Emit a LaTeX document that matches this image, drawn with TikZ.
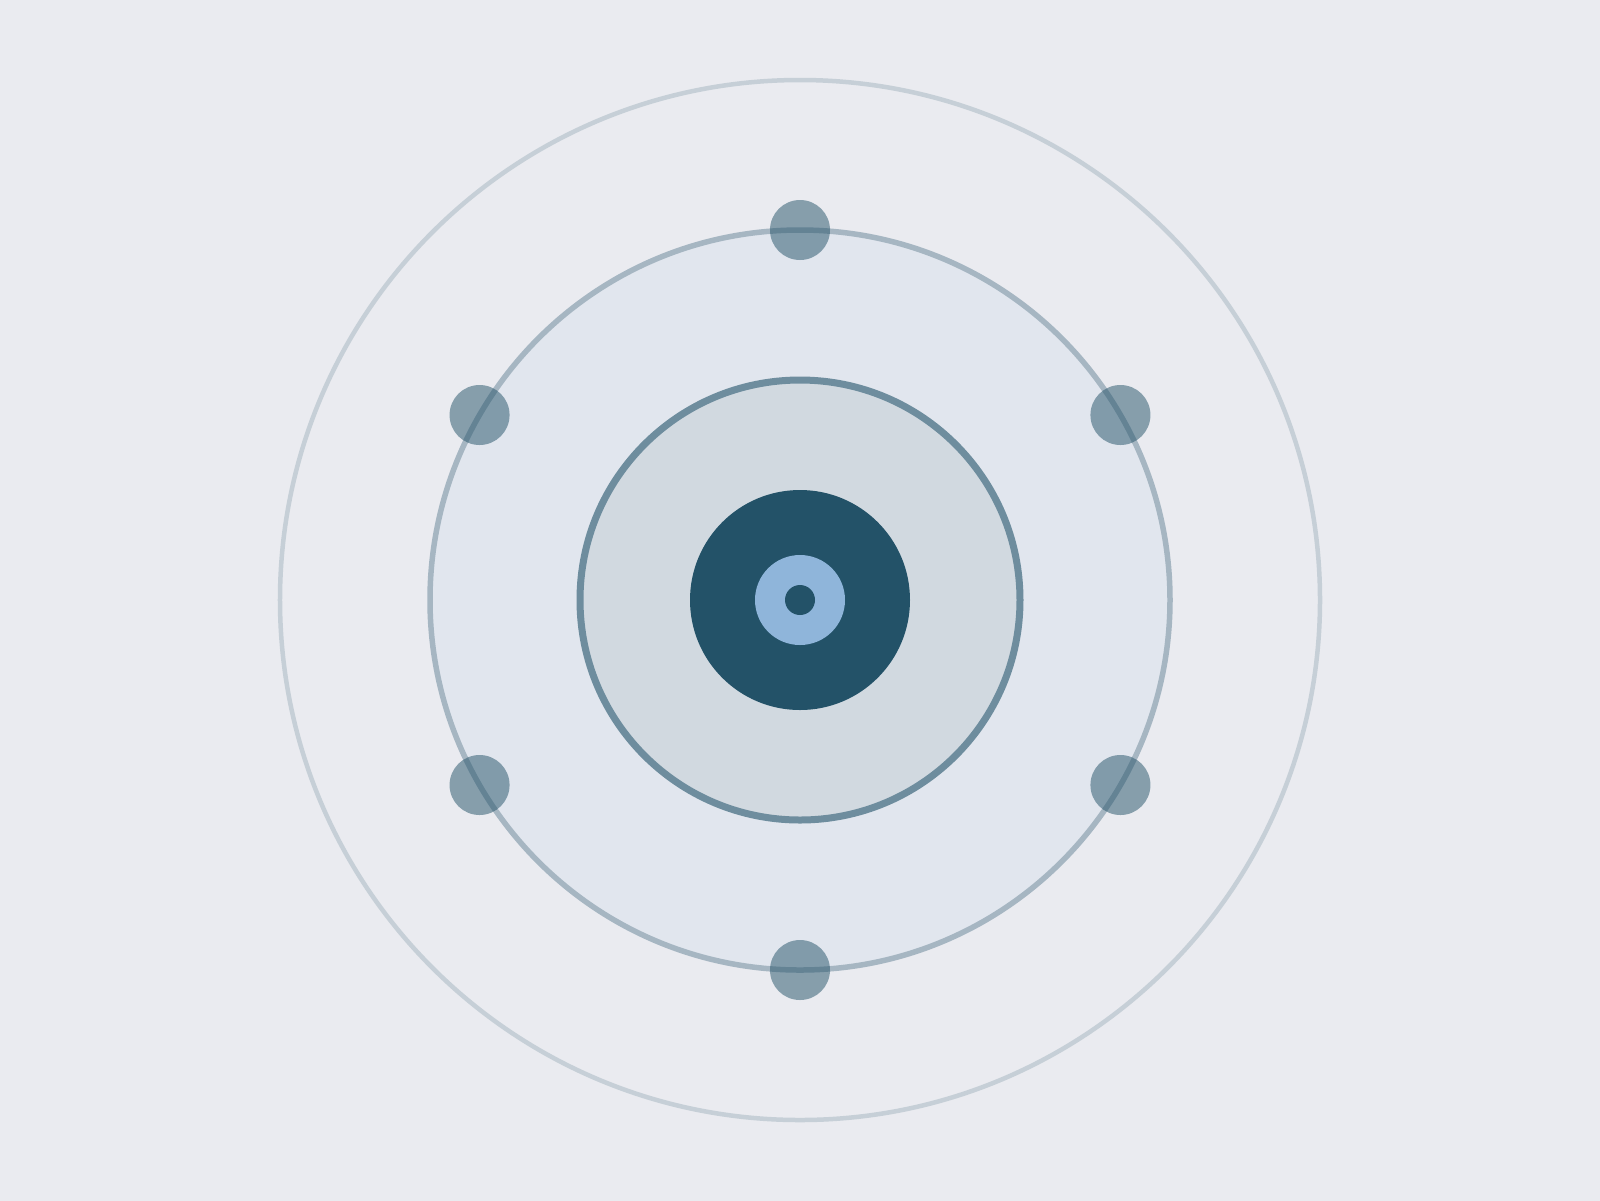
\documentclass[tikz,border=0pt]{standalone}
\definecolor{bgc}{RGB}{234,235,240}
\definecolor{halo}{RGB}{198,207,215}
\definecolor{orbitfill}{RGB}{225,230,238}
\definecolor{orbitline}{RGB}{166,182,194}
\definecolor{midfill}{RGB}{209,217,224}
\definecolor{midline}{RGB}{110,141,158}
\definecolor{core}{RGB}{35,82,104}
\definecolor{corering}{RGB}{143,181,218}
\begin{document}
\begin{tikzpicture}
[ring/.style={circle,inner sep=0pt,outer sep=0pt},
 sat/.style={circle,inner sep=0pt,minimum size=0.6cm,fill=core,fill opacity=0.5}]
\useasboundingbox (-8,-6) rectangle (8,6);
\fill [bgc] (-8.2,-6.2) rectangle (8.2,6.2);
\node [ring, draw=halo, line width=0.045cm, minimum size=10.4cm] at (0,0) (H) {};
\node [ring, draw=orbitline, fill=orbitfill, line width=0.055cm, minimum size=7.4cm] at (0,0) (O) {};
\node [ring, draw=midline, fill=midfill, line width=0.07cm, minimum size=4.4cm] at (0,0) (M) {};
\node [ring, fill=core, minimum size=2.2cm] at (0,0) (C) {};
\node [ring, fill=corering, minimum size=0.9cm] at (0,0) (R) {};
\node [ring, fill=core, minimum size=0.3cm] at (0,0) (D) {};

% satellites on the orbit
\foreach \a [count=\i] in {90,30,-30,-90,-150,150}
  \node [sat] at (\a:3.7) (S\i) {};
\end{tikzpicture}
\end{document}
